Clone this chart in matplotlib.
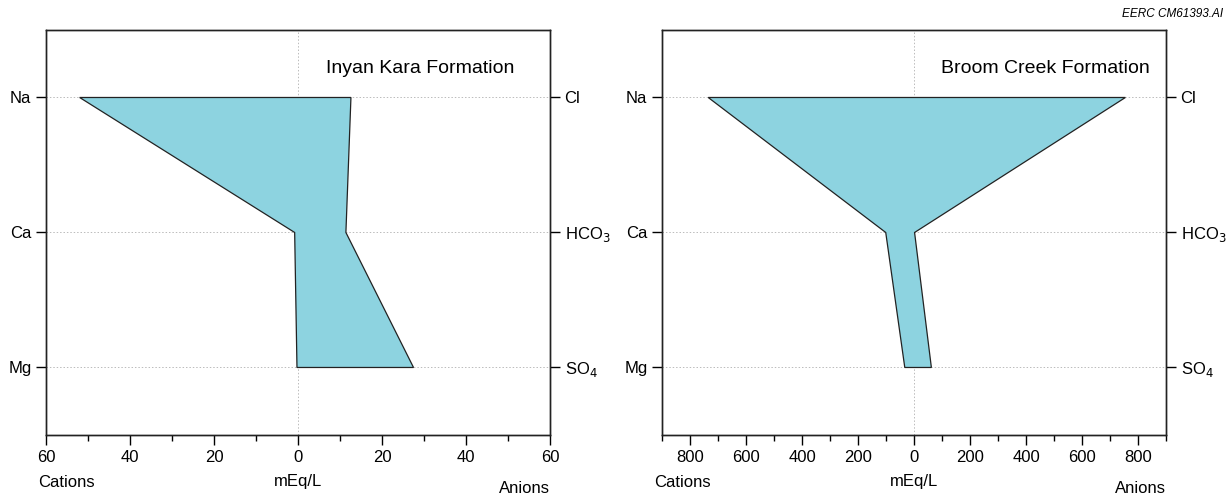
import matplotlib
matplotlib.use("Agg")
import matplotlib.pyplot as plt
from matplotlib.ticker import MultipleLocator, FuncFormatter

plt.rcParams['font.family'] = ['Liberation Sans', 'DejaVu Sans']

cations = ["Na", "Ca", "Mg"]
anions = ["Cl", r"HCO$_3$", r"SO$_4$"]

# Stiff diagram values, mEq/L
inyan_cations = [52, 0.8, 0.25]
inyan_anions = [12.6, 11.4, 27.5]
broom_cations = [735, 101, 33]
broom_anions = [755, 2, 62]

titles = ["Inyan Kara Formation", "Broom Creek Formation"]
title_x = [0.93, 0.968]
limits = [60, 900]
majors = [20, 200]
minors = [10, 100]

fill_color = "#8DD3E0"

fig = plt.figure(figsize=(12.31, 4.99), dpi=100)
ax_pos = [[0.0374, 0.1283, 0.4094, 0.8116], [0.5378, 0.1283, 0.4094, 0.8116]]

datasets = [(inyan_cations, inyan_anions), (broom_cations, broom_anions)]

for i, (cat, an) in enumerate(datasets):
    ax = fig.add_axes(ax_pos[i])
    lim = limits[i]
    ys = list(range(len(cations)))
    xs_poly = [-v for v in cat] + [v for v in an[::-1]]
    ys_poly = ys + ys[::-1]
    ax.fill(xs_poly, ys_poly, facecolor=fill_color, edgecolor="#222222",
            linewidth=0.9, zorder=3)

    ax.set_xlim(-lim, lim)
    ax.set_ylim(len(cations) - 0.5, -0.5)

    # dotted reference lines
    for y in ys:
        ax.axhline(y, color="#bbbbbb", linestyle=(0, (1.5, 2)), linewidth=0.7, zorder=1)
    ax.axvline(0, color="#bbbbbb", linestyle=(0, (1.5, 2)), linewidth=0.7, zorder=1)

    ax.xaxis.set_major_locator(MultipleLocator(majors[i]))
    ax.xaxis.set_minor_locator(MultipleLocator(minors[i]))
    ax.xaxis.set_major_formatter(FuncFormatter(lambda v, p: f"{abs(v):.0f}"))
    ax.tick_params(axis="x", which="major", direction="out", length=7, width=1,
                   labelsize=12, pad=4)
    ax.tick_params(axis="x", which="minor", direction="out", length=4, width=1)

    ax.set_yticks(ys)
    ax.set_yticklabels(cations)
    ax.tick_params(axis="y", direction="out", length=7, width=1, labelsize=12,
                   left=True, right=True, labelright=False)
    ax2 = ax.twinx()
    ax2.set_ylim(ax.get_ylim())
    ax2.set_yticks(ys)
    ax2.set_yticklabels(anions)
    ax2.tick_params(axis="y", direction="out", length=7, width=1, labelsize=12)

    for a in (ax, ax2):
        for s in a.spines.values():
            s.set_linewidth(1.0)
            s.set_color("#222222")

    ax.text(title_x[i], 0.906, titles[i], transform=ax.transAxes, ha="right",
            va="center", fontsize=14)

    ax.text(-0.015, -0.118, "Cations", transform=ax.transAxes, ha="left",
            va="center", fontsize=12)
    ax.text(0.5, -0.114, "mEq/L", transform=ax.transAxes, ha="center",
            va="center", fontsize=12)
    ax.text(1.0, -0.131, "Anions", transform=ax.transAxes, ha="right",
            va="center", fontsize=12)

fig.text(0.994, 0.972, "EERC CM61393.AI", ha="right", va="center",
         fontsize=8.5, style="italic")

fig.savefig("out.png", dpi=100)
